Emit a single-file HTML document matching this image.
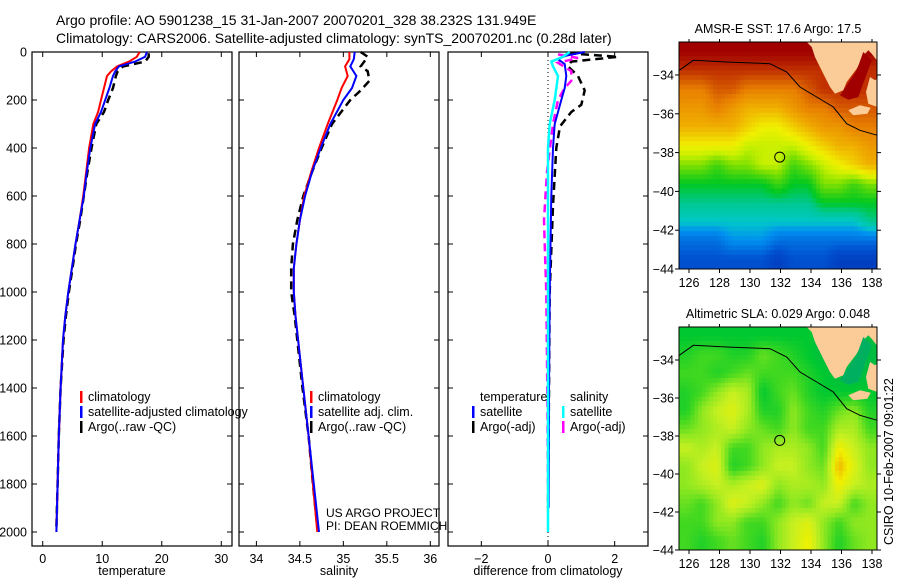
<!DOCTYPE html>
<html><head><meta charset="utf-8"><style>
body{margin:0;background:#fff}
svg{font-family:"Liberation Sans",sans-serif;display:block}
</style></head><body>
<svg id="c" width="900" height="580">
<text x="56" y="25" font-size="14">Argo profile: AO 5901238_15 31-Jan-2007 20070201_328 38.232S 131.949E</text>
<text x="56" y="43" font-size="14">Climatology: CARS2006. Satellite-adjusted climatology: synTS_20070201.nc (0.28d later)</text>
</svg>
<script>
const depthTicks=[0,200,400,600,800,1000,1200,1400,1600,1800,2000];
const tempTicks=[0,10,20,30];
const salTicks=[34,34.5,35,35.5,36];
const diffTicks=[-2,0,2];
const tempClim=[[0,16.3],[20,15.8],[40,14.5],[60,12.5],[80,11.5],[100,10.8],[150,10.3],[200,9.8],[250,9.3],[300,8.5],[400,7.8],[500,7.3],[600,6.8],[700,6.2],[800,5.5],[900,4.9],[1000,4.3],[1100,3.8],[1200,3.4],[1400,3.0],[1600,2.7],[1800,2.5],[2000,2.3]];
const tempSat=[[0,17.5],[20,17.2],[40,15.5],[60,12.8],[80,12.2],[100,11.8],[150,11.2],[200,10.5],[250,9.8],[300,8.8],[400,8.0],[500,7.4],[600,6.9],[700,6.2],[800,5.5],[900,4.9],[1000,4.3],[1100,3.8],[1200,3.4],[1400,3.0],[1600,2.7],[1800,2.5],[2000,2.3]];
const tempArgo=[[5,17.8],[20,17.8],[40,17.2],[60,13.5],[80,12.6],[100,12.3],[150,11.8],[200,11],[250,10.3],[300,9.0],[400,8.2],[500,7.5],[600,6.9],[700,6.3],[800,5.6],[900,5.0],[1000,4.4],[1100,3.9],[1200,3.5],[1400,3.0],[1600,2.7],[1800,2.5],[1980,2.3]];
const salClim=[[0,35.07],[30,35.07],[60,35.02],[100,35.05],[150,34.98],[200,34.93],[300,34.82],[400,34.72],[500,34.63],[600,34.55],[700,34.5],[800,34.46],[900,34.43],[1000,34.43],[1100,34.45],[1200,34.48],[1400,34.54],[1600,34.6],[1800,34.65],[2000,34.7]];
const salSat=[[0,35.13],[30,35.12],[60,35.08],[100,35.15],[150,35.1],[200,35.0],[300,34.85],[400,34.74],[500,34.64],[600,34.56],[700,34.5],[800,34.46],[900,34.43],[1000,34.43],[1100,34.45],[1200,34.48],[1400,34.54],[1600,34.6],[1800,34.66],[2000,34.72]];
const salArgo=[[0,35.2],[20,35.28],[60,35.2],[80,35.28],[120,35.3],[160,35.2],[200,35.08],[300,34.87],[400,34.75],[500,34.64],[600,34.54],[700,34.47],[800,34.42],[900,34.4],[1000,34.4],[1100,34.44],[1200,34.47],[1400,34.53],[1600,34.6],[1800,34.65],[1980,34.7]];
const dTempSat=[[0,1.1],[15,0.55],[30,0.3],[50,0.5],[100,0.55],[150,0.5],[200,0.4],[300,0.2],[400,0.15],[600,0.1],[1000,0.05],[1400,0.03],[1900,0.02]];
const dTempArgo=[[5,0.6],[20,2.1],[40,0.7],[60,0.6],[100,0.9],[160,1.1],[220,1.0],[250,0.7],[310,0.36],[400,0.25],[640,0.15],[1000,0.05],[1400,0.03],[1900,0.0]];
const dSalSat=[[0,0.65],[20,0.45],[40,0.1],[60,0.15],[100,0.3],[200,0.2],[300,0.05],[400,0.0],[600,0.0],[2000,0.0]];
const dSalArgo=[[10,0.3],[25,0.9],[45,0.3],[80,0.7],[120,0.7],[150,0.5],[200,0.3],[300,0.15],[500,-0.03],[700,-0.12],[800,-0.1],[1000,-0.05],[1400,-0.02],[1800,0]];
const lonTicks=[126,128,130,132,134,136,138];
const latTicks=[-34,-36,-38,-40,-42,-44];
const sstGrid=[
[10,10,10,10,10,10,10,10,10,10,10,10,10],
[9,9,9,9,9,9,9,9,9,9,9,9,9],
[8,8,8.5,8.5,8,8,8,8,8.5,9,9,9,9],
[7.5,7.5,8,7.5,7,7,7,7.5,8,8,8.5,8.5,8.5],
[7,7,7,7,6.5,6,6,6.5,7,7.5,7.5,8,8],
[6,6,6,6,5.5,5.5,5.5,5.5,6,6.5,7,7,7.5],
[5,5,4.5,5,5,5.5,5.5,4.5,5,5.5,6,6.5,7],
[4,4,4,4,4,4,4.5,4,4,5,5,4.5,5],
[3.5,3.5,3.5,3.5,3.5,3.5,3.5,3.5,3.5,4,4,4,4],
[3,3,3,3,3,3,3,3,3,3,3,3,3.5],
[2,2,2,2.5,2.5,2.5,2,2,2,2,2,2,2],
[1.5,1.5,1.5,1.5,1.5,1.5,1,1.5,1.5,1.5,1,1,1]];
const slaGrid=[
[1,1,1,1,1,1,1,1,1,0.5,0.5,0.5,0.5],
[1.5,2,2,1.5,1.5,2.5,2,1.5,1,0.5,0.5,0.5,0.5],
[2,2,1.5,2,2.5,2,2,2,1.5,1,0.5,0.5,0.5],
[1.5,2,3,4,3.5,1,2,2.5,1.5,1,1,1,1],
[1.5,3,4,4.5,3.5,1.5,1.5,3,2,1.5,2.5,3,1.5],
[2.5,3,3.5,4,3,2.5,2,3,2,2,3.5,3.5,2],
[4,3.5,4,2,2,3,3.5,3.5,3,2,5,4,3],
[3,4,4.5,1.5,2,3,4,4,3,2.5,6,4.5,3],
[3,3.5,4,3.5,4,4.5,3,3.5,3.5,3,5,4,3.5],
[2.5,2,3,4.5,4,3,2,3,2.5,4,4,2,3],
[2,2,3,3,2,2,3,4,4.5,3,2,3,3],
[2,1.5,2,2.5,2,1.5,3,4,5,3,1.5,2.5,3]];
const argoLon=131.949, argoLat=-38.232;

const NS='http://www.w3.org/2000/svg';
const svg=document.getElementById('c');
function mk(t,a,p){const e=document.createElementNS(NS,t);for(const k in a)e.setAttribute(k,a[k]);(p||svg).appendChild(e);return e;}
const Y0=52,Y1=546;
const yD=d=>Y0+d*(480/2000);
const panels=[
 {x0:32,x1:232,v0:-1.8,v1:31.8,ticks:tempTicks,label:'temperature',name:'temperature-panel'},
 {x0:239,x1:439,v0:33.8,v1:36.1,ticks:salTicks,label:'salinity',name:'salinity-panel'},
 {x0:448,x1:648,v0:-3,v1:3,ticks:diffTicks,label:'difference from climatology',name:'difference-panel'}];
panels.forEach((p,i)=>{
 p.sx=v=>p.x0+(v-p.v0)/(p.v1-p.v0)*(p.x1-p.x0);
 const g=mk('g',{});
 
 
 const r=mk('rect',{x:p.x0,y:Y0,width:p.x1-p.x0,height:Y1-Y0,fill:'none',stroke:'#000','stroke-width':1.2},g);
 
 
 p.ticks.forEach(t=>{const x=p.sx(t);
  mk('line',{x1:x,x2:x,y1:Y0,y2:Y0+5,stroke:'#000'},g);
  mk('line',{x1:x,x2:x,y1:Y1,y2:Y1-5,stroke:'#000'},g);
  const tx=mk('text',{x:x,y:Y1+17,'font-size':12.5,'text-anchor':'middle'},g);tx.textContent=(t<0?'\u2212'+(-t):t);
  
  
 });
 depthTicks.forEach(d=>{const y=yD(d);
  mk('line',{x1:p.x0,x2:p.x0+5,y1:y,y2:y,stroke:'#000'},g);
  mk('line',{x1:p.x1,x2:p.x1-5,y1:y,y2:y,stroke:'#000'},g);
  if(i==0){const tx=mk('text',{x:p.x0-5,y:y+4.5,'font-size':12.5,'text-anchor':'end'},g);tx.textContent=d;
   
   }
 });
 const lb=mk('text',{x:(p.x0+p.x1)/2,y:575,'font-size':12.5,'text-anchor':'middle'},g);lb.textContent=p.label;
 
 
});
function line(p,data,col,w,dash,name){
 const d=data.map((q,k)=>(k?'L':'M')+p.sx(q[1]).toFixed(1)+','+yD(q[0]).toFixed(1)).join('');
 const e=mk('path',{d:d,fill:'none',stroke:col,'stroke-width':w,'stroke-dasharray':dash||'none'});
 
 
}
const P=panels;
line(P[0],tempArgo,'#000',2.5,'8,5','temp-argo-line');
line(P[0],tempClim,'#f00',2,'','temp-climatology-line');
line(P[0],tempSat,'#00f',2,'','temp-satellite-line');
line(P[1],salArgo,'#000',2.5,'8,5','sal-argo-line');
line(P[1],salClim,'#f00',2,'','sal-climatology-line');
line(P[1],salSat,'#00f',2,'','sal-satellite-line');
const zl=mk('line',{x1:P[2].sx(0),x2:P[2].sx(0),y1:Y0,y2:Y1,stroke:'#000','stroke-dasharray':'1,3'});


line(P[2],dTempArgo,'#000',2.5,'8,5','diff-temp-argo-line');
line(P[2],dSalArgo,'#f0f',2.5,'8,5','diff-sal-argo-line');
line(P[2],dTempSat,'#00f',2,'','diff-temp-satellite-line');
line(P[2],dSalSat,'#0ff',2.5,'','diff-sal-satellite-line');
function leg(x,y,col,txt,name){
 if(col){const m=mk('rect',{x:x,y:y-10,width:2.5,height:12,fill:col});
  
  }
 const t=mk('text',{x:x+8,y:y,'font-size':12.5});t.textContent=txt;
 
 
}
leg(80,401,'#f00','climatology','legend-temp-climatology');
leg(80,416,'#00f','satellite-adjusted climatology','legend-temp-satellite');
leg(80,431,'#000','Argo(..raw -QC)','legend-temp-argo');
leg(310,401,'#f00','climatology','legend-sal-climatology');
leg(310,416,'#00f','satellite adj. clim.','legend-sal-satellite');
leg(310,431,'#000','Argo(..raw -QC)','legend-sal-argo');
leg(472,401,null,'temperature','legend-diff-temperature-heading');
leg(472,416,'#00f','satellite','legend-diff-temp-satellite');
leg(472,431,'#000','Argo(-adj)','legend-diff-temp-argo');
leg(562,401,null,'salinity','legend-diff-salinity-heading');
leg(562,416,'#0ff','satellite','legend-diff-sal-satellite');
leg(562,431,'#f0f','Argo(-adj)','legend-diff-sal-argo');
const c1=mk('text',{x:326,y:517,'font-size':12});c1.textContent='US ARGO PROJECT';


const c2=mk('text',{x:326,y:530,'font-size':12});c2.textContent='PI: DEAN ROEMMICH';



function lerpCol(stops,v){
 for(let k=1;k<stops.length;k++){if(v<=stops[k][0]){const a=stops[k-1],b=stops[k],t=(v-a[0])/(b[0]-a[0]);
  const c=[0,1,2].map(j=>Math.round(a[1][j]+(b[1][j]-a[1][j])*t));return 'rgb('+c.join(',')+')';}}
 return 'rgb('+stops[stops.length-1][1].join(',')+')';
}
function sample(grid,fy,fx){
 const R=grid.length,C=grid[0].length;
 fy=Math.max(0,Math.min(R-1,fy));fx=Math.max(0,Math.min(C-1,fx));
 const r0=Math.floor(fy),c0=Math.floor(fx),r1=Math.min(R-1,r0+1),c1=Math.min(C-1,c0+1),ty=fy-r0,tx=fx-c0;
 return (grid[r0][c0]*(1-tx)+grid[r0][c1]*tx)*(1-ty)+(grid[r1][c0]*(1-tx)+grid[r1][c1]*tx)*ty;
}
const sstStops=[[0,[0,32,160]],[1.5,[0,80,208]],[2.5,[0,144,240]],[3,[0,200,200]],[3.5,[0,200,144]],[4,[0,200,32]],[5,[128,224,0]],[5.5,[200,240,0]],[6,[240,240,0]],[7,[240,176,0]],[8,[232,128,0]],[9,[192,48,0]],[10,[160,0,0]]];
const slaStops=[[0,[0,176,80]],[1,[0,200,48]],[2,[64,216,32]],[3,[144,232,32]],[4,[200,240,32]],[5,[240,240,0]],[6,[240,176,0]],[7,[240,160,0]]];
function map(top,bot,grid,stops,title,name){
 const X0=679,X1=877;
 const mx=lon=>689+(lon-126)*15.25;
 const my=lat=>top+33+(-34-lat)*((bot-top-33)/10);
 const g=mk('g',{});
 
 
 const SUB=4,C=grid[0].length,R=grid.length;
 const cw=(X1-X0)/(C*SUB),ch=(bot-top)/(R*SUB);
 for(let ri=0;ri<R*SUB;ri++)for(let ci=0;ci<C*SUB;ci++){
  const v=sample(grid,(ri+0.5)/SUB-0.5,(ci+0.5)/SUB-0.5);
  const r=mk('rect',{x:(X0+ci*cw).toFixed(2),y:(top+ri*ch).toFixed(2),width:(cw+0.5).toFixed(2),height:(ch+0.5).toFixed(2),fill:lerpCol(stops,v)},g);
  
  
 }
 const S=1/3,ox=660,oy=top-95/3;
 const pt=a=>a.map(q=>(ox+q[0]*S).toFixed(1)+','+(oy+q[1]*S).toFixed(1)).join(' ');
 const dark=name=='sst-map'?'#a00000':'#00b060';
 const land=mk('polygon',{points:pt([[440,95],[455,110],[465,140],[490,190],[510,230],[525,250],[550,240],[560,215],[590,175],[615,130],[625,120],[635,130],[650,150],[652,95]]),fill:'#fbcb98'},g);
 
 
 const gulf=mk('polygon',{points:pt([[610,125],[635,150],[615,205],[595,260],[565,268],[540,255],[560,225],[590,180]]),fill:dark},g);
 
 
 const land2=mk('polygon',{points:pt([[630,200],[645,210],[652,205],[652,290],[625,280],[618,245]]),fill:'#fbcb98'},g);
 
 
 const isl=mk('polygon',{points:pt([[565,300],[600,285],[632,292],[622,310],[580,315]]),fill:'#fbcb98'},g);
 
 
 const cl=mk('polyline',{points:pt([[58,180],[100,150],[200,155],[330,160],[380,185],[420,230],[470,260],[520,290],[560,340],[600,360],[652,375]]),fill:'none',stroke:'#000','stroke-width':1},g);
 
 
 const ci=mk('circle',{cx:mx(argoLon),cy:my(argoLat),r:5,fill:'none',stroke:'#000','stroke-width':1},g);
 
 
 const fr=mk('rect',{x:X0,y:top,width:X1-X0,height:bot-top,fill:'none',stroke:'#000'},g);
 
 
 lonTicks.forEach(l=>{const x=mx(l);
  mk('line',{x1:x,x2:x,y1:bot,y2:bot+4,stroke:'#000'},g);
  mk('line',{x1:x,x2:x,y1:top,y2:top-3,stroke:'#000'},g);
  const t=mk('text',{x:x,y:bot+18,'font-size':12.5,'text-anchor':'middle'},g);t.textContent=l;
  
  });
 latTicks.forEach(l=>{const y=my(l);
  mk('line',{x1:X0,x2:X0-4,y1:y,y2:y,stroke:'#000'},g);
  mk('line',{x1:X1,x2:X1+4,y1:y,y2:y,stroke:'#000'},g);
  const t=mk('text',{x:X0-5,y:y+4.5,'font-size':12.5,'text-anchor':'end'},g);t.textContent='\u2212'+(-l);
  
  });
 const tt=mk('text',{x:(X0+X1)/2,y:top-9,'font-size':12.5,'text-anchor':'middle'},g);tt.textContent=title;
 
 
}
map(42,269,sstGrid,sstStops,'AMSR-E SST: 17.6 Argo: 17.5','sst-map');
map(327,550,slaGrid,slaStops,'Altimetric SLA: 0.029 Argo: 0.048','sla-map');
const cs=mk('text',{x:0,y:0,'font-size':12.5,'text-anchor':'start',transform:'translate(893,545) rotate(-90)'});
cs.textContent='CSIRO 10-Feb-2007 09:01:22';


</script>
</body></html>
